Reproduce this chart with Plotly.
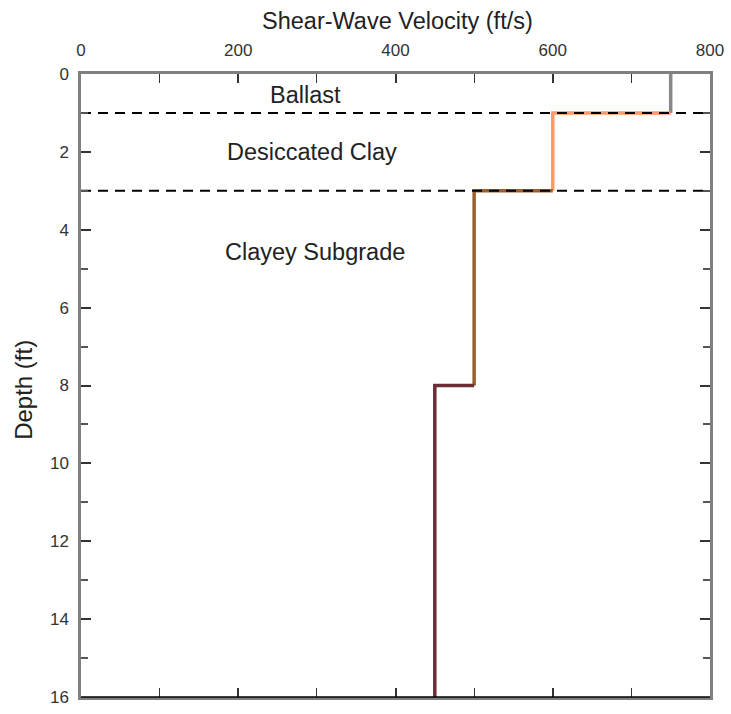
import plotly.graph_objects as go

# Data
layer_top = [0, 1, 3, 8]
layer_bottom = [1, 3, 8, 16]
velocity = [750, 600, 500, 450]
layer_colors = ["#888888", "#FF9966", "#9A6030", "#6B2E34"]
boundaries = [1, 3]
labels = ["Ballast", "Desiccated Clay", "Clayey Subgrade"]
label_x = [286, 294, 297]
label_y = [0.55, 2.0, 4.57]

FONT = "Liberation Sans, Arial, sans-serif"

fig = go.Figure()

for i in range(len(velocity)):
    if i == 0:
        xs = [velocity[i], velocity[i]]
        ys = [layer_top[i], layer_bottom[i]]
    else:
        xs = [velocity[i - 1], velocity[i], velocity[i]]
        ys = [layer_top[i], layer_top[i], layer_bottom[i]]
    fig.add_trace(go.Scatter(x=xs, y=ys, mode="lines",
                             line=dict(color=layer_colors[i], width=3.5),
                             showlegend=False, hoverinfo="skip"))

for b in boundaries:
    fig.add_trace(go.Scatter(x=[0, 800], y=[b, b], mode="lines",
                             line=dict(color="black", width=2, dash="10px,7px"),
                             showlegend=False, hoverinfo="skip"))

for t, x, y in zip(labels, label_x, label_y):
    fig.add_annotation(x=x, y=y, text=t, showarrow=False,
                       font=dict(size=23.5, color="#222222", family=FONT))

fig.add_annotation(xref="paper", yref="paper", x=0.503, y=1.0, yshift=53,
                   xanchor="center", yanchor="middle",
                   text="Shear-Wave Velocity (ft/s)", showarrow=False,
                   font=dict(size=23.5, color="#222222", family=FONT))
fig.add_annotation(xref="paper", yref="paper", x=0, xshift=-57, y=0.493,
                   xanchor="center", yanchor="middle",
                   text="Depth (ft)", textangle=-90, showarrow=False,
                   font=dict(size=24, color="#222222", family=FONT))

# bottom black line
fig.add_shape(type="line", xref="paper", yref="paper", x0=0, x1=1, y0=0, y1=0,
              line=dict(color="black", width=1.5))

fig.update_xaxes(side="top", range=[0, 800], tickvals=[0, 200, 400, 600, 800],
                 ticks="inside", ticklen=9, tickcolor="#333333", tickwidth=1.5,
                 minor=dict(ticks="inside", dtick=100, ticklen=9, tickcolor="#333333", tickwidth=1),
                 showline=True, linecolor="#808080", linewidth=2.5, mirror="ticks",
                 showgrid=False, zeroline=False, ticklabelstandoff=8,
                 tickfont=dict(size=17, color="#333333", family=FONT))
fig.update_yaxes(range=[16, 0], tickvals=list(range(0, 17, 2)),
                 ticks="inside", ticklen=10, tickcolor="#333333", tickwidth=1.5,
                 minor=dict(ticks="inside", dtick=1, ticklen=7, tickcolor="#555555", tickwidth=1.5),
                 showline=True, linecolor="#808080", linewidth=2.5, mirror="ticks",
                 showgrid=False, zeroline=False, ticklabelstandoff=6,
                 tickfont=dict(size=17, color="#333333", family=FONT))

fig.update_layout(width=731, height=714, plot_bgcolor="white", paper_bgcolor="white",
                  margin=dict(l=81, r=17, t=74, b=7), showlegend=False)

fig.write_html("out.html", config={"displayModeBar": False},
               post_script="document.body.style.margin='0';document.body.style.overflow='hidden';")
